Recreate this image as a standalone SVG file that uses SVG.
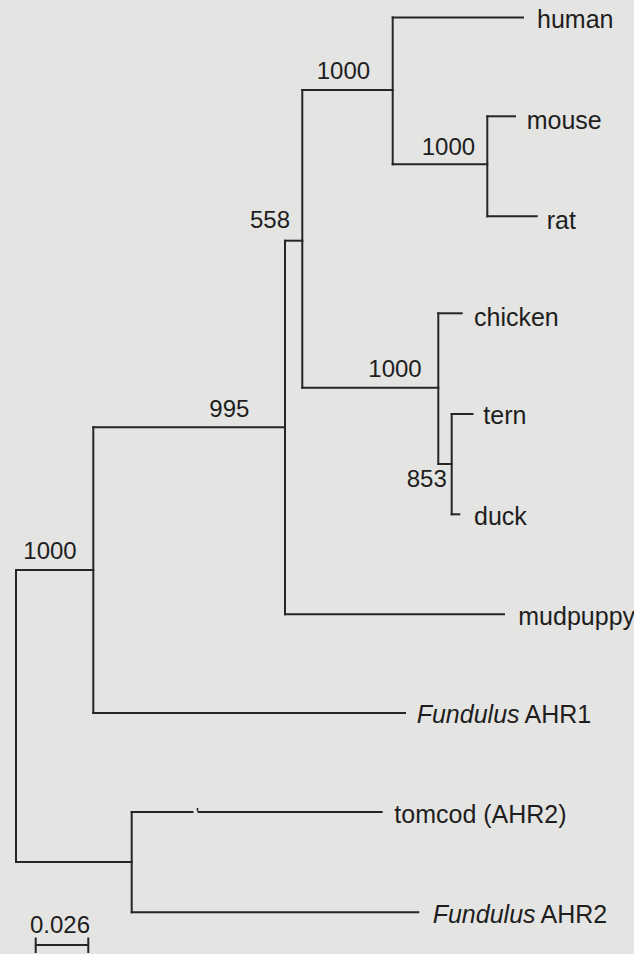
<svg xmlns="http://www.w3.org/2000/svg" width="634" height="954" viewBox="0 0 634 954">
<defs>
<style>
.bg{fill:#e4e4e2}
.br{fill:none;stroke:#262626;stroke-width:2;stroke-linecap:square}
.t{font-family:"Liberation Sans",Arial,sans-serif;font-size:24px;fill:#1e1e1e}
.l{font-size:25px}
.i{font-style:italic}
</style>
</defs>
<rect class="bg" x="0" y="0" width="634" height="954"/>
<g id="connectors">
<path class="br" d="M392.7,17.5 H523"/>
<path class="br" d="M392.7,17.5 V164.3"/>
<path class="br" d="M302.3,90 H392.7"/>
<path class="br" d="M392.7,164.3 H487.3"/>
<path class="br" d="M487.3,116.3 V216.3"/>
<path class="br" d="M487.3,116.3 H515"/>
<path class="br" d="M487.3,216.3 H536.7"/>
<path class="br" d="M302.3,90 V387.7"/>
<path class="br" d="M285,240.7 H302.3"/>
<path class="br" d="M285,240.7 V614.3"/>
<path class="br" d="M302.3,387.7 H438.3"/>
<path class="br" d="M438.3,313.3 V464"/>
<path class="br" d="M438.3,313.3 H461.7"/>
<path class="br" d="M438.3,464 H451.7"/>
<path class="br" d="M451.7,414 V514.3"/>
<path class="br" d="M451.7,414 H472.5"/>
<path class="br" d="M451.7,514.3 H459.3"/>
<path class="br" d="M285,614.3 H504"/>
<path class="br" d="M93.3,427.3 H285"/>
<path class="br" d="M93.3,427.3 V713"/>
<path class="br" d="M93.3,713 H405"/>
<path class="br" d="M16,570 H93.3"/>
<path class="br" d="M16,570 V862"/>
<path class="br" d="M16,862 H131.7"/>
<path class="br" d="M131.7,812 V912.3"/>
<path class="br" d="M131.7,812 H192.5"/>
<path class="br" d="M198.5,812 H381.7"/>
<path d="M197.5,808 L197.5,811" stroke="#262626" stroke-width="1.5" fill="none"/>
<path class="br" d="M131.7,912.3 H418.3"/>
</g>
<g id="n-human"><text class="t l" x="537" y="28">human</text></g>
<g id="n-mouse"><text class="t l" x="526.7" y="129.3">mouse</text></g>
<g id="n-rat"><text class="t l" x="546.7" y="229">rat</text></g>
<g id="n-chicken"><text class="t l" x="474" y="326">chicken</text></g>
<g id="n-tern"><text class="t l" x="483.3" y="424.3">tern</text></g>
<g id="n-duck"><text class="t l" x="474" y="525">duck</text></g>
<g id="n-mudpuppy"><text class="t l" x="518.3" y="625">mudpuppy</text></g>
<g id="n-fundulus-ahr1"><text class="t l" x="416.7" y="722.7"><tspan class="i">Fundulus</tspan><tspan dx="5">AHR1</tspan></text></g>
<g id="n-tomcod"><text class="t l" x="394.3" y="822.7">tomcod (AHR2)</text></g>
<g id="n-fundulus-ahr2"><text class="t l" x="432.7" y="922.7"><tspan class="i">Fundulus</tspan><tspan dx="5">AHR2</tspan></text></g>
<g id="b-mammals"><text class="t" x="316.7" y="79">1000</text></g>
<g id="b-murids"><text class="t" x="421.7" y="155">1000</text></g>
<g id="b-tetrapods"><text class="t" x="250" y="228">558</text></g>
<g id="b-birds"><text class="t" x="368.3" y="377.3">1000</text></g>
<g id="b-anseriform"><text class="t" x="406.7" y="486.7">853</text></g>
<g id="b-ahr1"><text class="t" x="209.3" y="417.3">995</text></g>
<g id="b-root"><text class="t" x="23.3" y="559">1000</text></g>
<g id="scale">
<text class="t" x="30" y="933.3">0.026</text>
<path class="br" d="M35.7,945 H88.3 M35.7,938.5 V952 M88.3,938.5 V952"/>
</g>
</svg>
